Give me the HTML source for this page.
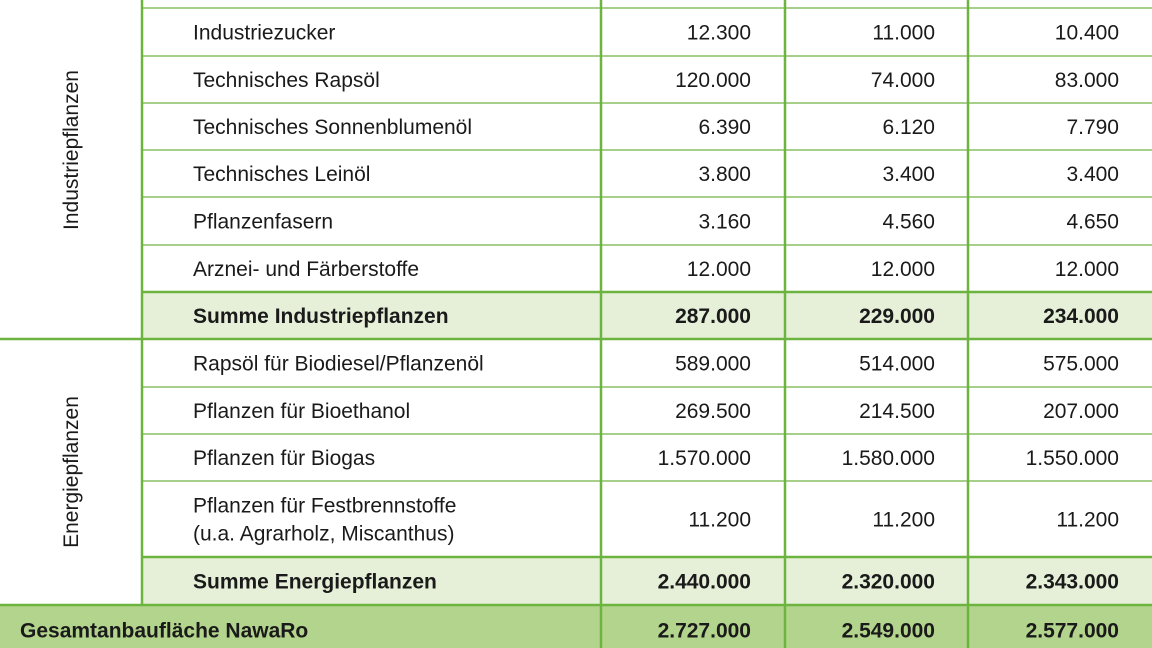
<!DOCTYPE html>
<html><head><meta charset="utf-8"><style>
html,body{margin:0;padding:0;background:#fff;width:1152px;height:648px;overflow:hidden}
svg text{font-family:"Liberation Sans Narrow","Liberation Sans",sans-serif;fill:#1a1a1a}
</style></head><body>
<svg id="t" width="1152" height="648" xmlns="http://www.w3.org/2000/svg"></svg>
<script>
const rowLabels = ["Industriezucker","Technisches Rapsöl","Technisches Sonnenblumenöl","Technisches Leinöl","Pflanzenfasern","Arznei- und Färberstoffe","Summe Industriepflanzen","Rapsöl für Biodiesel/Pflanzenöl","Pflanzen für Bioethanol","Pflanzen für Biogas","Pflanzen für Festbrennstoffe|(u.a. Agrarholz, Miscanthus)","Summe Energiepflanzen","Gesamtanbaufläche NawaRo"];
const col1 = ["12.300","120.000","6.390","3.800","3.160","12.000","287.000","589.000","269.500","1.570.000","11.200","2.440.000","2.727.000"];
const col2 = ["11.000","74.000","6.120","3.400","4.560","12.000","229.000","514.000","214.500","1.580.000","11.200","2.320.000","2.549.000"];
const col3 = ["10.400","83.000","7.790","3.400","4.650","12.000","234.000","575.000","207.000","1.550.000","11.200","2.343.000","2.577.000"];
const rowTypes = ["n","n","n","n","n","n","sum","n","n","n","n","sum","total"];
const groups = ["Industriepflanzen","Energiepflanzen"];

const svg = document.getElementById('t');
const NS = "http://www.w3.org/2000/svg";
function mk(tag, attrs, parent){const e=document.createElementNS(NS,tag);for(const k in attrs)e.setAttribute(k,attrs[k]);(parent||svg).appendChild(e);return e;}
const tops=[8,56,103,150,197,245,292,339,387,434,481,557,605,655];
const colX=[142,601,785,968];
const valRight=[751,935,1119];
const dark="#6cb33f", light="#a6d08a";
rowTypes.forEach((t,i)=>{
  if(t==="sum"){const r=mk('rect',{x:142,y:tops[i],width:1010,height:tops[i+1]-tops[i],fill:"#e6f0d8"});}
  if(t==="total"){const r=mk('rect',{x:0,y:tops[i],width:1152,height:tops[i+1]-tops[i],fill:"#b3d48c"});}
});
for(let i=0;i<tops.length-1;i++){
  const y=tops[i];
  const major=(i===7||i===12);
  const sumEdge=(rowTypes[i]==="sum"||rowTypes[i-1]==="sum");
  mk('line',{x1:major?0:142,x2:1152,y1:y,y2:y,stroke:(major||sumEdge)?dark:light,'stroke-width':(major||sumEdge)?2.5:2});
}
colX.forEach((x,j)=>{mk('line',{x1:x,x2:x,y1:0,y2:j===0?605:648,stroke:dark,'stroke-width':2.5});});
rowLabels.forEach((lab,i)=>{
  const y0=tops[i],y1=tops[i+1],cy=(y0+y1)/2;
  const t=rowTypes[i];
  const bold=t!=="n";
  const g=mk('g',{});
  
  
  const x=t==="total"?20:193;
  const parts=lab.split('|');
  parts.forEach((p,k)=>{
    const yy=cy+7.5+(k-(parts.length-1)/2)*28;
    const tx=mk('text',{x:x,y:yy,'font-size':21,'font-weight':bold?'bold':'normal'},g);
    tx.textContent=p;
    
    
  });
  [col1,col2,col3].forEach((c,j)=>{
    const tx=mk('text',{x:valRight[j],y:cy+7.5,'font-size':21,'text-anchor':'end','font-weight':bold?'bold':'normal'},g);
    tx.textContent=c[i];
    
    
  });
});
[[0,7],[7,12]].forEach((r,k)=>{
  const cy=k===0?150:472;
  const tx=mk('text',{x:0,y:0,'font-size':21,'text-anchor':'middle',transform:`translate(78,${cy}) rotate(-90)`});
  tx.textContent=groups[k];
  
  
});
</script>
</body></html>
